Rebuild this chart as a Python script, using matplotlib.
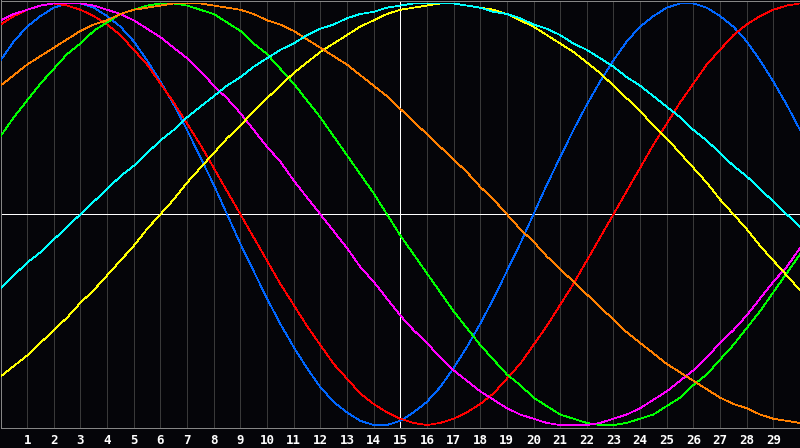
import matplotlib
matplotlib.use('Agg')
import matplotlib.pyplot as plt

# half-day steps along the bottom (0 .. 30), values for each cycle
days = [i / 2 for i in range(61)]
tick_days = list(range(1, 30))
today = 15

physical = [0.73, 0.82, 0.89, 0.94, 0.98, 1.00, 1.00, 0.98, 0.94, 0.89, 0.82, 0.73, 0.63, 0.52, 0.40, 0.27,
            0.14, 0.00, -0.14, -0.27, -0.40, -0.52, -0.63, -0.73, -0.82, -0.89, -0.94, -0.98, -1.00, -1.00,
            -0.98, -0.94, -0.89, -0.82, -0.73, -0.63, -0.52, -0.40, -0.27, -0.14, 0.00, 0.14, 0.27, 0.40,
            0.52, 0.63, 0.73, 0.82, 0.89, 0.94, 0.98, 1.00, 1.00, 0.98, 0.94, 0.89, 0.82, 0.73, 0.63, 0.52, 0.40]
emotional = [0.90, 0.94, 0.97, 0.99, 1.00, 0.99, 0.97, 0.94, 0.90, 0.85, 0.78, 0.71, 0.62, 0.53, 0.43, 0.33,
             0.22, 0.11, 0.00, -0.11, -0.22, -0.33, -0.43, -0.53, -0.62, -0.71, -0.78, -0.85, -0.90, -0.94,
             -0.97, -0.99, -1.00, -0.99, -0.97, -0.94, -0.90, -0.85, -0.78, -0.71, -0.62, -0.53, -0.43, -0.33,
             -0.22, -0.11, 0.00, 0.11, 0.22, 0.33, 0.43, 0.53, 0.62, 0.71, 0.78, 0.85, 0.90, 0.94, 0.97, 0.99, 1.00]
intellectual = [0.37, 0.46, 0.54, 0.62, 0.69, 0.76, 0.81, 0.87, 0.91, 0.95, 0.97, 0.99, 1.00, 1.00, 0.99, 0.97,
                0.95, 0.91, 0.87, 0.81, 0.76, 0.69, 0.62, 0.54, 0.46, 0.37, 0.28, 0.19, 0.10, 0.00, -0.10,
                -0.19, -0.28, -0.37, -0.46, -0.54, -0.62, -0.69, -0.76, -0.81, -0.87, -0.91, -0.95, -0.97,
                -0.99, -1.00, -1.00, -0.99, -0.97, -0.95, -0.91, -0.87, -0.81, -0.76, -0.69, -0.62, -0.54,
                -0.46, -0.37, -0.28, -0.19]
intuitive = [0.92, 0.95, 0.97, 0.99, 1.00, 1.00, 1.00, 0.99, 0.97, 0.95, 0.92, 0.88, 0.84, 0.79, 0.74, 0.68,
             0.61, 0.55, 0.48, 0.40, 0.32, 0.25, 0.16, 0.08, 0.00, -0.08, -0.16, -0.25, -0.32, -0.40, -0.48,
             -0.55, -0.61, -0.68, -0.74, -0.79, -0.84, -0.88, -0.92, -0.95, -0.97, -0.99, -1.00, -1.00, -1.00,
             -0.99, -0.97, -0.95, -0.92, -0.88, -0.84, -0.79, -0.74, -0.68, -0.61, -0.55, -0.48, -0.40, -0.32,
             -0.25, -0.16]
aesthetic = [-0.77, -0.72, -0.67, -0.61, -0.55, -0.49, -0.42, -0.36, -0.29, -0.22, -0.15, -0.07, 0.00, 0.07,
             0.15, 0.22, 0.29, 0.36, 0.42, 0.49, 0.55, 0.61, 0.67, 0.72, 0.77, 0.81, 0.85, 0.89, 0.92, 0.95,
             0.97, 0.98, 0.99, 1.00, 1.00, 0.99, 0.98, 0.97, 0.95, 0.92, 0.89, 0.85, 0.81, 0.77, 0.72, 0.67,
             0.61, 0.55, 0.49, 0.42, 0.36, 0.29, 0.22, 0.15, 0.07, 0.00, -0.07, -0.15, -0.22, -0.29, -0.36]
awareness = [0.61, 0.66, 0.71, 0.75, 0.79, 0.83, 0.87, 0.90, 0.92, 0.95, 0.97, 0.98, 0.99, 1.00, 1.00, 1.00,
             0.99, 0.98, 0.97, 0.95, 0.92, 0.90, 0.87, 0.83, 0.79, 0.75, 0.71, 0.66, 0.61, 0.56, 0.50, 0.44,
             0.38, 0.32, 0.26, 0.20, 0.13, 0.07, 0.00, -0.07, -0.13, -0.20, -0.26, -0.32, -0.38, -0.44, -0.50,
             -0.56, -0.61, -0.66, -0.71, -0.75, -0.79, -0.83, -0.87, -0.90, -0.92, -0.95, -0.97, -0.98, -0.99]
spiritual = [-0.35, -0.29, -0.23, -0.18, -0.12, -0.06, 0.00, 0.06, 0.12, 0.18, 0.23, 0.29, 0.35, 0.40, 0.46,
             0.51, 0.56, 0.61, 0.65, 0.70, 0.74, 0.78, 0.81, 0.85, 0.88, 0.90, 0.93, 0.95, 0.96, 0.98, 0.99,
             1.00, 1.00, 1.00, 1.00, 0.99, 0.98, 0.96, 0.95, 0.93, 0.90, 0.88, 0.85, 0.81, 0.78, 0.74, 0.70,
             0.65, 0.61, 0.56, 0.51, 0.46, 0.40, 0.35, 0.29, 0.23, 0.18, 0.12, 0.06, 0.00, -0.06]

bg = '#050509'
fig = plt.figure(figsize=(8, 4.48), dpi=100, facecolor=bg)
ax = fig.add_axes([0.5 / 800, 20 / 448, 799.5 / 800, 427.5 / 448], facecolor=bg)

# midline and today marker
ax.axhline(0, color='white', lw=0.7, zorder=1, antialiased=False)
ax.axvline(today, color='white', lw=0.7, zorder=1, antialiased=False)

series = [
    (physical, '#0066ff'),
    (emotional, '#ff0000'),
    (intellectual, '#00ff00'),
    (intuitive, '#ff00ff'),
    (aesthetic, '#ffff00'),
    (awareness, '#ff8000'),
    (spiritual, '#00ffff'),
]
for vals, col in series:
    ax.plot(days, vals, color=col, lw=0.55, antialiased=False, zorder=3)

ax.set_xlim(0, 30)
ax.set_ylim(-1.014, 1.014)
ax.set_xticks(tick_days)
ax.set_xticklabels([str(d) for d in tick_days], color='white', fontweight='bold',
                   family='DejaVu Sans Mono', fontsize=9)
ax.tick_params(axis='x', length=0, pad=4)
ax.set_yticks([])
ax.grid(axis='x', color='#393939', lw=0.7, antialiased=False)
ax.set_axisbelow(True)

for side in ['left', 'top', 'bottom']:
    ax.spines[side].set_color('#8a8a8a')
    ax.spines[side].set_linewidth(0.7)
ax.spines['right'].set_visible(False)

plt.savefig('out.png', dpi=100, facecolor=bg)
